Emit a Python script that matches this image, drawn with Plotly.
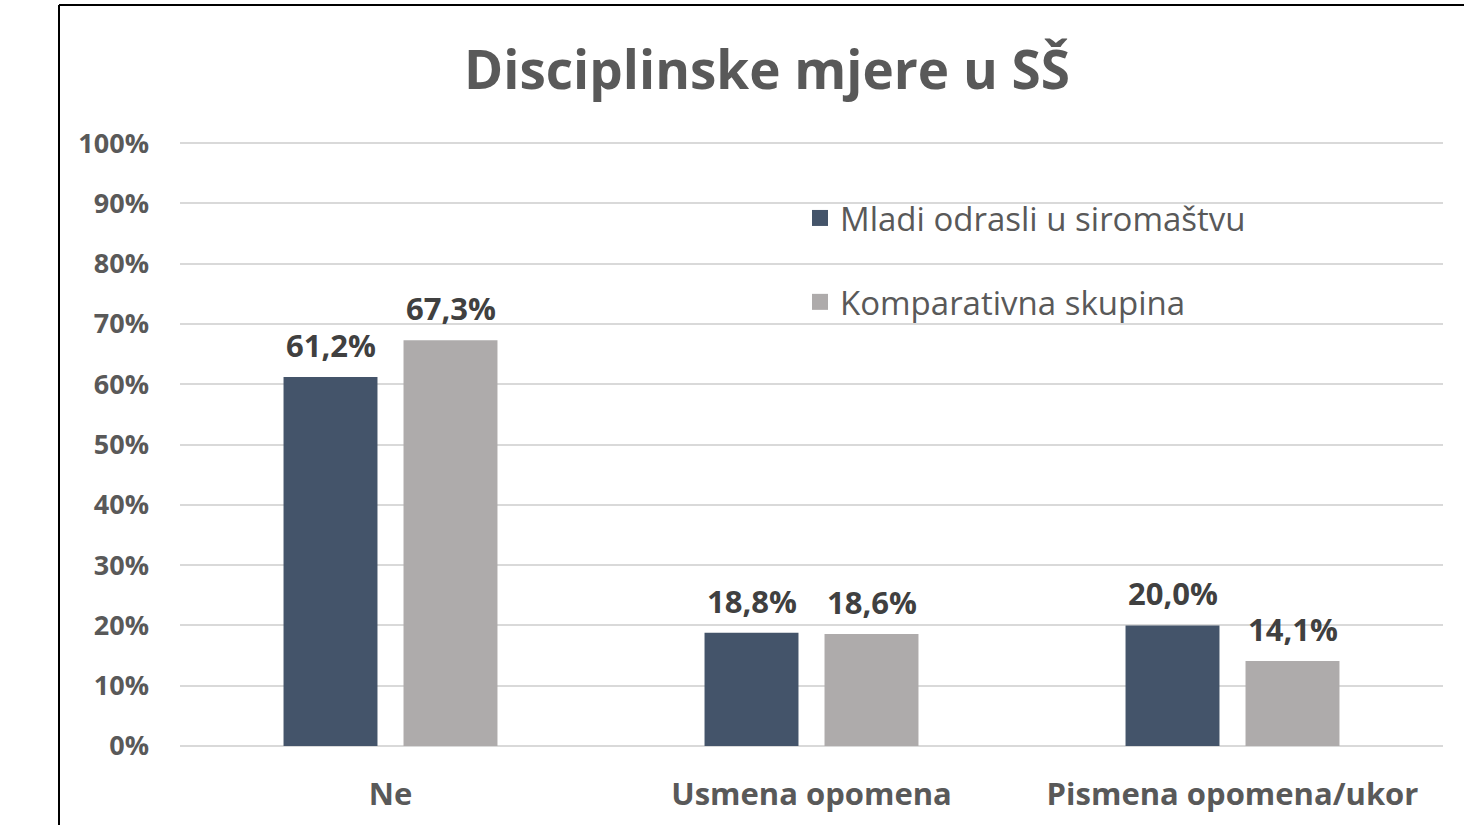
import plotly.graph_objects as go

categories = ["Ne", "Usmena opomena", "Pismena opomena/ukor"]
series_names = ["Mladi odrasli u siromaštvu", "Komparativna skupina"]
mladi = [0.612, 0.188, 0.200]
komparativna = [0.673, 0.186, 0.141]
tick_vals = [0, 0.1, 0.2, 0.3, 0.4, 0.5, 0.6, 0.7, 0.8, 0.9, 1.0]
tick_text = ["0%", "10%", "20%", "30%", "40%", "50%", "60%", "70%", "80%", "90%", "100%"]

colors = ["#44546A", "#AEABAB"]
FONT = "Open Sans"

def fmt(v):
    return f"{v*100:.1f}%".replace(".", ",")

fig = go.Figure()
offsets = [-60, 60]
annotations = []
for name, vals, col, off in zip(series_names, [mladi, komparativna], colors, offsets):
    fig.add_trace(go.Bar(
        x=categories, y=vals, name=name, legendgroup=name, showlegend=False,
        marker=dict(color=col, line=dict(width=0)),
    ))
    for c, v in zip(categories, vals):
        annotations.append(dict(
            x=c, y=v, xref="x", yref="y", text=f"<b>{fmt(v)}</b>",
            showarrow=False, xanchor="center", yanchor="middle",
            xshift=off, yshift=32,
            font=dict(family=FONT, size=31, color="#404040"),
        ))

# legend entries with larger square symbols
for name, col in zip(series_names, colors):
    fig.add_trace(go.Scatter(
        x=[categories[0]], y=[None], mode="markers", name=name, legendgroup=name,
        marker=dict(symbol="square", size=20, color=col), hoverinfo="skip",
    ))

W, H = 1464, 825
L, R, T, B = 180, 21, 142, 79
pw = W - L - R
ph = H - T - B

def px_x(p):
    return (p - L) / pw

def px_y(p):
    return (H - B - p) / ph

fig.update_layout(
    width=W, height=H,
    margin=dict(l=L, r=R, t=T, b=B, autoexpand=False),
    paper_bgcolor="white", plot_bgcolor="white",
    barmode="group", bargap=0.43, bargroupgap=0.217,
    title=dict(text="<b>Disciplinske mjere u SŠ</b>", x=767 / W, xanchor="center",
               y=1 - 70 / H, yanchor="middle", xref="container", yref="container",
               font=dict(family=FONT, size=53, color="#595959")),
    font=dict(family=FONT, color="#595959"),
    xaxis=dict(showgrid=False, showline=False, ticks="", ticklabelstandoff=27,
               tickfont=dict(family=FONT, size=31, color="#595959", weight="bold")),
    yaxis=dict(range=[0, 1.002], tickvals=tick_vals, ticktext=tick_text,
               showgrid=True, gridcolor="#D9D9D9", gridwidth=1.5,
               zeroline=True, zerolinecolor="#D9D9D9", zerolinewidth=1.5,
               showline=False, ticks="", ticklabelstandoff=30,
               tickfont=dict(family=FONT, size=27, color="#595959", weight="bold")),
    legend=dict(x=px_x(800), y=px_y(190), xanchor="left", yanchor="top",
                bgcolor="rgba(0,0,0,0)", tracegroupgap=38, itemsizing="trace",
                itemwidth=30,
                font=dict(family=FONT, size=33, color="#595959")),
    showlegend=True,
    annotations=annotations,
    shapes=[
        dict(type="line", xref="paper", yref="paper",
             x0=px_x(59), x1=px_x(59), y0=px_y(5), y1=px_y(825),
             line=dict(color="black", width=2)),
        dict(type="line", xref="paper", yref="paper",
             x0=px_x(59), x1=px_x(1464), y0=px_y(5), y1=px_y(5),
             line=dict(color="black", width=2)),
    ],
)

fig.write_html("out.html", config={"displayModeBar": False},
               post_script="document.body.style.margin='0px';")
